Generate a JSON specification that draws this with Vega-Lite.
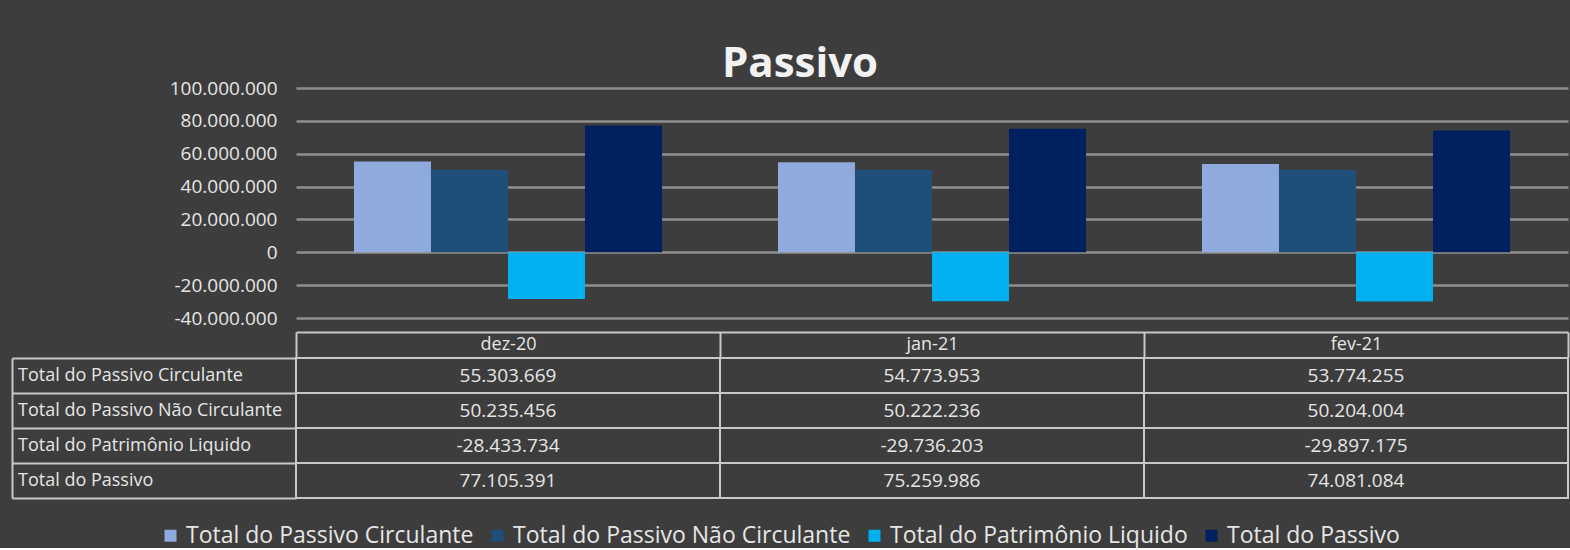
{
  "$schema": "https://vega.github.io/schema/vega-lite/v6.json",
  "background": "#3d3d3d",
  "padding": {"left": 10, "top": 43, "right": 2, "bottom": 0},
  "title": {"text": "Passivo", "font": "Open Sans", "fontSize": 42, "fontWeight": "bold", "color": "#f2f2f2", "anchor": "middle", "offset": 0, "dx": 10, "dy": 7},
  "datasets": {
    "passivo": [
      {"mes": "dez-20", "serie": "Total do Passivo Circulante", "valor": 55303669},
      {"mes": "dez-20", "serie": "Total do Passivo Não Circulante", "valor": 50235456},
      {"mes": "dez-20", "serie": "Total do Patrimônio Liquido", "valor": -28433734},
      {"mes": "dez-20", "serie": "Total do Passivo", "valor": 77105391},
      {"mes": "jan-21", "serie": "Total do Passivo Circulante", "valor": 54773953},
      {"mes": "jan-21", "serie": "Total do Passivo Não Circulante", "valor": 50222236},
      {"mes": "jan-21", "serie": "Total do Patrimônio Liquido", "valor": -29736203},
      {"mes": "jan-21", "serie": "Total do Passivo", "valor": 75259986},
      {"mes": "fev-21", "serie": "Total do Passivo Circulante", "valor": 53774255},
      {"mes": "fev-21", "serie": "Total do Passivo Não Circulante", "valor": 50204004},
      {"mes": "fev-21", "serie": "Total do Patrimônio Liquido", "valor": -29897175},
      {"mes": "fev-21", "serie": "Total do Passivo", "valor": 74081084}
    ]
  },
  "data": {"name": "passivo"},
  "spacing": -11,
  "vconcat": [
    {
      "width": 1272,
      "height": 230,
      "mark": {"type": "bar"},
      "encoding": {
        "x": {
          "field": "mes", "type": "nominal", "sort": ["dez-20", "jan-21", "fev-21"],
          "scale": {"paddingInner": 0, "paddingOuter": 0},
          "axis": {"orient": "bottom", "offset": 14, "title": null, "domain": true, "domainColor": "#c8c8c8", "domainWidth": 2, "ticks": true, "tickBand": "extent", "tickSize": 25, "tickColor": "#c8c8c8", "tickWidth": 2, "labelPadding": -12.5, "labelBaseline": "middle", "labelFontSize": 18, "labelFont": "Open Sans", "labelColor": "#e6e6e6", "labelAngle": 0, "grid": false}
        },
        "xOffset": {
          "field": "serie", "type": "nominal",
          "sort": ["Total do Passivo Circulante", "Total do Passivo Não Circulante", "Total do Patrimônio Liquido", "Total do Passivo"],
          "scale": {"paddingInner": 0, "paddingOuter": 0.753}
        },
        "y": {
          "field": "valor", "type": "quantitative",
          "scale": {"domain": [-40000000, 100000000], "nice": false},
          "axis": {"values": [-40000000, -20000000, 0, 20000000, 40000000, 60000000, 80000000, 100000000], "format": ",d", "grid": true, "gridColor": "#8f8f8f", "gridWidth": 2.5, "domain": false, "ticks": false, "labelPadding": 19, "labelFontSize": 19, "labelFont": "Open Sans", "labelColor": "#e6e6e6", "title": null}
        },
        "color": {
          "field": "serie", "type": "nominal",
          "sort": ["Total do Passivo Circulante", "Total do Passivo Não Circulante", "Total do Patrimônio Liquido", "Total do Passivo"],
          "scale": {"domain": ["Total do Passivo Circulante", "Total do Passivo Não Circulante", "Total do Patrimônio Liquido", "Total do Passivo"], "range": ["#8FAADC", "#1F4E79", "#00B0F0", "#002060"]},
          "legend": {"orient": "none", "legendX": -137, "legendY": 436, "direction": "horizontal", "title": null, "symbolType": "square", "symbolSize": 144, "symbolStrokeWidth": 0, "labelFont": "Open Sans", "labelFontSize": 23, "labelColor": "#e6e6e6", "labelLimit": 500, "columnPadding": 12, "labelOffset": 4}
        }
      }
    },
    {
      "width": 1272,
      "height": 140,
      "view": {"stroke": "#c8c8c8", "strokeWidth": 2},
      "layer": [
        {
          "mark": {"type": "rect", "filled": false, "color": "#c8c8c8", "strokeWidth": 2},
          "encoding": {
            "x": {"field": "mes", "type": "nominal", "sort": ["dez-20", "jan-21", "fev-21"], "scale": {"paddingInner": 0, "paddingOuter": 0}, "axis": null},
            "y": {"field": "serie", "type": "nominal",
              "sort": ["Total do Passivo Circulante", "Total do Passivo Não Circulante", "Total do Patrimônio Liquido", "Total do Passivo"],
              "scale": {"paddingInner": 0, "paddingOuter": 0},
              "axis": {"orient": "left", "offset": 284, "title": null, "labels": false, "ticks": false, "grid": false, "domain": true, "domainColor": "#c8c8c8", "domainWidth": 2}}
          }
        },
        {
          "mark": {"type": "text", "font": "Open Sans", "fontSize": 19, "color": "#e6e6e6"},
          "encoding": {
            "x": {"field": "mes", "type": "nominal", "sort": ["dez-20", "jan-21", "fev-21"], "axis": null},
            "y": {"field": "serie", "type": "nominal",
              "sort": ["Total do Passivo Circulante", "Total do Passivo Não Circulante", "Total do Patrimônio Liquido", "Total do Passivo"],
              "axis": {"orient": "left", "title": null, "grid": false, "tickBand": "extent", "ticks": true, "tickSize": 284, "tickColor": "#c8c8c8", "tickWidth": 2, "domain": false, "labelAlign": "left", "labelPadding": -5.5, "labelFont": "Open Sans", "labelFontSize": 18, "labelColor": "#e6e6e6", "labelLimit": 300}},
            "text": {"field": "valor", "type": "quantitative", "format": ",d"}
          }
        }
      ],
      "resolve": {"axis": {"y": "independent", "x": "independent"}}
    }
  ],
  "resolve": {"scale": {"color": "shared"}, "legend": {"color": "shared"}},
  "config": {
    "view": {"stroke": null},
    "locale": {"number": {"decimal": ",", "thousands": ".", "grouping": [3], "currency": ["R$", ""], "minus": "-"}}
  }
}
